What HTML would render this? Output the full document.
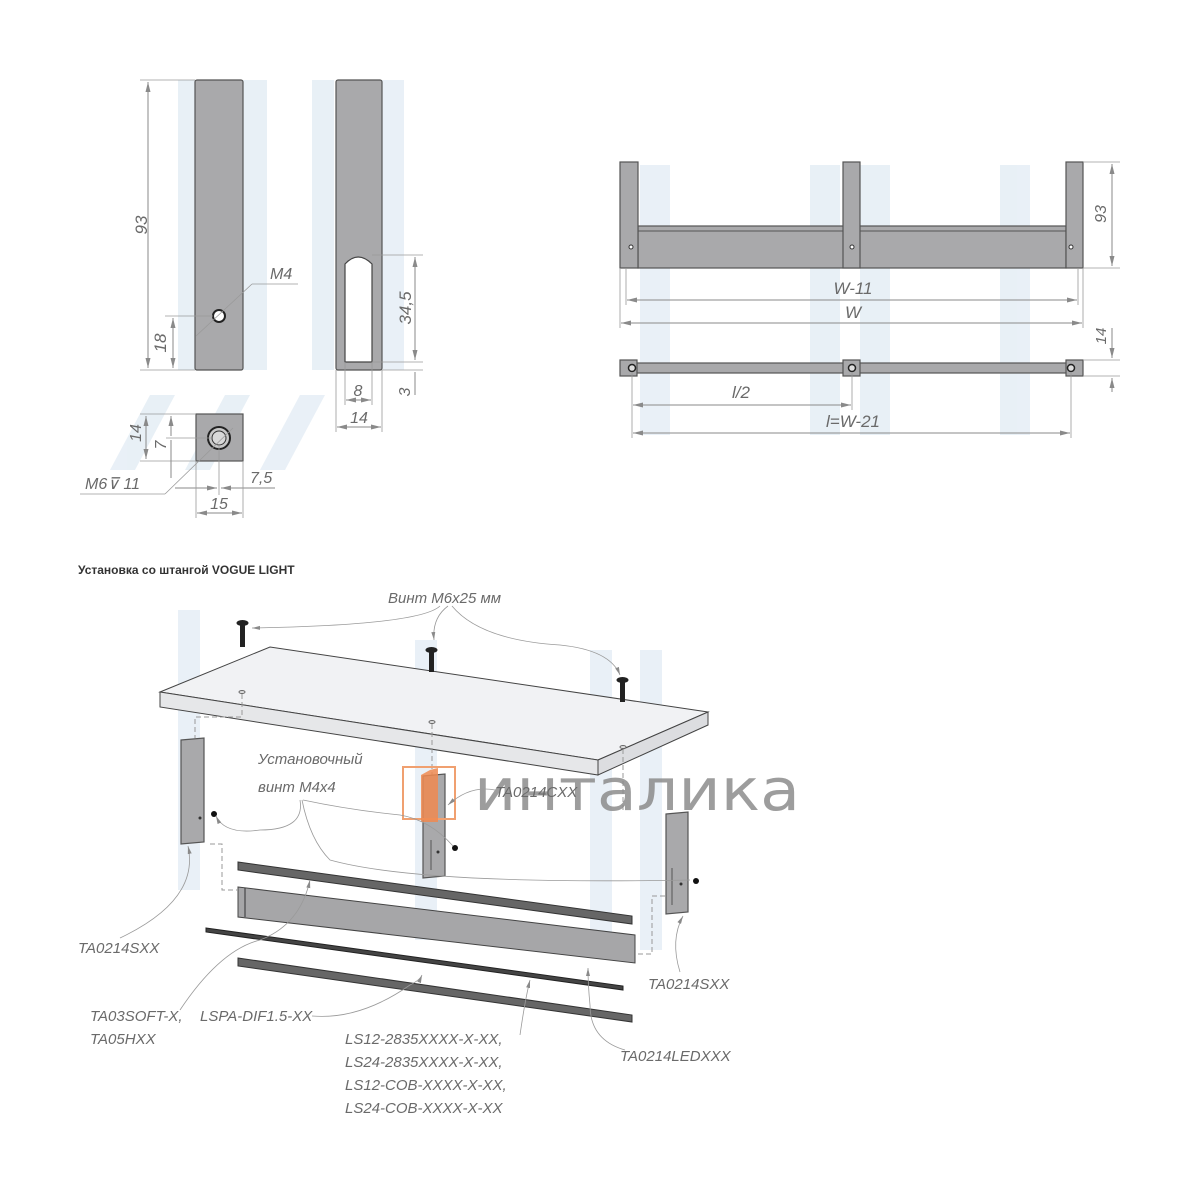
<!DOCTYPE html>
<html><head><meta charset="utf-8"><style>
html,body{margin:0;padding:0;background:#fff;}
svg{display:block;}
.t{font-family:"Liberation Sans Narrow","Liberation Sans",sans-serif;font-style:italic;fill:#6a6a6a;}
.d{stroke:#8a8a8a;stroke-width:1;fill:none;}
.e{stroke:#9a9a9a;stroke-width:0.8;fill:none;}
.part{fill:#a9a9ab;stroke:#555;stroke-width:1.2;}
.wm{fill:#dfeaf3;}
</style></head><body>
<svg width="1200" height="1200" viewBox="0 0 1200 1200" xmlns="http://www.w3.org/2000/svg">
<defs>
<marker id="a" viewBox="0 0 10 6" refX="10" refY="3" markerWidth="10" markerHeight="6" orient="auto-start-reverse"><path d="M0,0.5 L10,3 L0,5.5z" fill="#8a8a8a"/></marker>
</defs>
<!-- watermarks -->
<g class="wm" opacity="0.7">
<rect x="178" y="80" width="22" height="290"/><rect x="243" y="80" width="24" height="290"/>
<rect x="312" y="80" width="22" height="290"/><rect x="382" y="80" width="22" height="290"/>
<polygon points="110,470 150,395 175,395 135,470"/><polygon points="185,470 225,395 250,395 210,470"/><polygon points="260,470 300,395 325,395 285,470"/>
<rect x="640" y="165" width="30" height="270"/><rect x="810" y="165" width="30" height="270"/><rect x="860" y="165" width="30" height="270"/><rect x="1000" y="165" width="30" height="270"/>
<rect x="178" y="610" width="22" height="280"/><rect x="415" y="640" width="22" height="300"/><rect x="590" y="650" width="22" height="300"/><rect x="640" y="650" width="22" height="300"/>
</g>
<!-- Top-left bar -->
<rect class="part" x="195" y="80" width="48" height="290" rx="2"/>
<circle cx="219" cy="316" r="6" fill="#fff" stroke="#222" stroke-width="2"/>
<line class="e" x1="140" y1="80" x2="195" y2="80"/><line class="e" x1="140" y1="370" x2="195" y2="370"/>
<line class="d" x1="148" y1="82" x2="148" y2="368" marker-start="url(#a)" marker-end="url(#a)"/>
<text class="t" font-size="17" transform="translate(147,225) rotate(-90)" text-anchor="middle">93</text>
<line class="e" x1="165" y1="316" x2="213" y2="316"/>
<line class="d" x1="173" y1="318" x2="173" y2="368" marker-start="url(#a)" marker-end="url(#a)"/>
<text class="t" font-size="17" transform="translate(166,343) rotate(-90)" text-anchor="middle">18</text>
<line class="e" x1="196" y1="336" x2="252" y2="284"/><line class="e" x1="252" y1="284" x2="298" y2="284"/>
<text class="t" font-size="16" x="270" y="279">M4</text>
<!-- Second bar -->
<rect class="part" x="336" y="80" width="46" height="290" rx="2"/>
<path d="M345,362 L345,264 Q358,250 372,264 L372,362 Z" fill="#fff" stroke="#444" stroke-width="1.2"/>
<line class="e" x1="372" y1="255" x2="423" y2="255"/><line class="e" x1="372" y1="362" x2="423" y2="362"/><line class="e" x1="382" y1="370" x2="423" y2="370"/>
<line class="d" x1="415" y1="257" x2="415" y2="360" marker-start="url(#a)" marker-end="url(#a)"/>
<text class="t" font-size="17" transform="translate(411,308) rotate(-90)" text-anchor="middle">34,5</text>
<line class="d" x1="415" y1="372" x2="415" y2="395"/>
<text class="t" font-size="16" transform="translate(410,392) rotate(-90)" text-anchor="middle">3</text>
<line class="e" x1="345" y1="362" x2="345" y2="405"/><line class="e" x1="372" y1="362" x2="372" y2="405"/>
<line class="e" x1="336" y1="370" x2="336" y2="432"/><line class="e" x1="382" y1="370" x2="382" y2="432"/>
<line class="d" x1="346" y1="400" x2="371" y2="400" marker-start="url(#a)" marker-end="url(#a)"/>
<text class="t" font-size="16" x="358" y="396" text-anchor="middle">8</text>
<line class="d" x1="337" y1="427" x2="381" y2="427" marker-start="url(#a)" marker-end="url(#a)"/>
<text class="t" font-size="16" x="359" y="423" text-anchor="middle">14</text>
<!-- Bottom square -->
<rect class="part" x="196" y="414" width="47" height="47"/>
<circle cx="219" cy="438" r="11" fill="#c8c8c8" stroke="#222" stroke-width="2"/>
<circle cx="219" cy="438" r="7" fill="#d8d8d8" stroke="#333" stroke-width="1"/>
<line class="e" x1="140" y1="414" x2="196" y2="414"/><line class="e" x1="140" y1="461" x2="196" y2="461"/>
<line class="d" x1="146" y1="416" x2="146" y2="459" marker-start="url(#a)" marker-end="url(#a)"/>
<text class="t" font-size="16" transform="translate(141,433) rotate(-90)" text-anchor="middle">14</text>
<line class="e" x1="166" y1="438" x2="212" y2="438"/>
<line class="d" x1="171" y1="416" x2="171" y2="436" marker-start="url(#a)"/><line class="d" x1="171" y1="440" x2="171" y2="478"/>
<text class="t" font-size="16" transform="translate(166,445) rotate(-90)" text-anchor="middle">7</text>
<line class="e" x1="219" y1="445" x2="219" y2="495"/>
<line class="d" x1="175" y1="488" x2="217" y2="488" marker-end="url(#a)"/>
<line class="d" x1="221" y1="488" x2="275" y2="488" marker-start="url(#a)"/>
<text class="t" font-size="16" x="250" y="483">7,5</text>
<line class="e" x1="196" y1="461" x2="196" y2="518"/><line class="e" x1="243" y1="461" x2="243" y2="518"/>
<line class="d" x1="197" y1="513" x2="242" y2="513" marker-start="url(#a)" marker-end="url(#a)"/>
<text class="t" font-size="16" x="219" y="509" text-anchor="middle">15</text>
<line class="e" x1="233" y1="428" x2="165" y2="494"/><line class="e" x1="165" y1="494" x2="80" y2="494"/>
<text class="t" font-size="16" x="85" y="489">M6⊽ 11</text>
<!-- Right front view -->
<rect class="part" x="638" y="226" width="428" height="42"/>
<line x1="638" y1="231" x2="1066" y2="231" stroke="#555"/>
<rect class="part" x="620" y="162" width="18" height="106"/>
<rect class="part" x="843" y="162" width="17" height="106"/>
<rect class="part" x="1066" y="162" width="17" height="106"/>
<circle cx="631" cy="247" r="2" fill="#fff" stroke="#333"/><circle cx="852" cy="247" r="2" fill="#fff" stroke="#333"/><circle cx="1071" cy="247" r="2" fill="#fff" stroke="#333"/>
<line class="e" x1="1083" y1="162" x2="1120" y2="162"/><line class="e" x1="1083" y1="268" x2="1120" y2="268"/>
<line class="d" x1="1112" y1="164" x2="1112" y2="266" marker-start="url(#a)" marker-end="url(#a)"/>
<text class="t" font-size="16" transform="translate(1106,214) rotate(-90)" text-anchor="middle">93</text>
<line class="e" x1="626" y1="268" x2="626" y2="305"/><line class="e" x1="1078" y1="268" x2="1078" y2="305"/>
<line class="e" x1="620" y1="268" x2="620" y2="328"/><line class="e" x1="1083" y1="268" x2="1083" y2="328"/>
<line class="d" x1="627" y1="300" x2="1077" y2="300" marker-start="url(#a)" marker-end="url(#a)"/>
<text class="t" font-size="17" x="853" y="294" text-anchor="middle">W-11</text>
<line class="d" x1="621" y1="323" x2="1082" y2="323" marker-start="url(#a)" marker-end="url(#a)"/>
<text class="t" font-size="17" x="853" y="318" text-anchor="middle">W</text>
<!-- Right top view -->
<rect class="part" x="636" y="363" width="432" height="10"/>
<rect class="part" x="620" y="360" width="17" height="16"/><rect class="part" x="843" y="360" width="17" height="16"/><rect class="part" x="1066" y="360" width="17" height="16"/>
<circle cx="632" cy="368" r="3.5" fill="#ddd" stroke="#222" stroke-width="1.5"/><circle cx="852" cy="368" r="3.5" fill="#ddd" stroke="#222" stroke-width="1.5"/><circle cx="1071" cy="368" r="3.5" fill="#ddd" stroke="#222" stroke-width="1.5"/>
<line class="e" x1="1083" y1="360" x2="1120" y2="360"/><line class="e" x1="1083" y1="376" x2="1120" y2="376"/>
<line class="d" x1="1112" y1="328" x2="1112" y2="358" marker-end="url(#a)"/><line class="d" x1="1112" y1="378" x2="1112" y2="392" marker-start="url(#a)"/>
<text class="t" font-size="15" transform="translate(1106,336) rotate(-90)" text-anchor="middle">14</text>
<line class="e" x1="632" y1="372" x2="632" y2="438"/><line class="e" x1="852" y1="372" x2="852" y2="410"/><line class="e" x1="1071" y1="372" x2="1071" y2="438"/>
<line class="d" x1="633" y1="405" x2="851" y2="405" marker-start="url(#a)" marker-end="url(#a)"/>
<text class="t" font-size="17" x="741" y="398" text-anchor="middle">l/2</text>
<line class="d" x1="633" y1="433" x2="1070" y2="433" marker-start="url(#a)" marker-end="url(#a)"/>
<text class="t" font-size="17" x="853" y="427" text-anchor="middle">l=W-21</text>
<!-- Lower section -->
<text x="78" y="574" font-family="Liberation Sans Narrow,Liberation Sans,sans-serif" font-weight="bold" font-size="12" fill="#333">Установка со штангой VOGUE LIGHT</text>
<text class="t" font-size="15" x="388" y="603">Винт M6x25 мм</text>
<path class="e" d="M440,606 Q420,625 252,628" marker-end="url(#a)"/>
<path class="e" d="M448,606 Q432,618 434,640" marker-end="url(#a)"/>
<path class="e" d="M452,606 Q480,640 560,645 Q610,650 620,675" marker-end="url(#a)"/>
<!-- shelf -->
<polygon points="160,692 270,647 708,712 598,760" fill="#f1f2f4" stroke="#444" stroke-width="1"/>
<polygon points="160,692 598,760 598,775 160,707" fill="#e6e7e9" stroke="#444" stroke-width="1"/>
<polygon points="598,760 708,712 708,725 598,775" fill="#dcdde0" stroke="#444" stroke-width="1"/>
<!-- screws -->
<g fill="#222"><rect x="240" y="625" width="5" height="22"/><ellipse cx="242.5" cy="623" rx="6" ry="3"/>
<rect x="429" y="652" width="5" height="20"/><ellipse cx="431.5" cy="650" rx="6" ry="3"/>
<rect x="620" y="682" width="5" height="20"/><ellipse cx="622.5" cy="680" rx="6" ry="3"/></g>
<g fill="#ddd" stroke="#666"><ellipse cx="242" cy="692" rx="3" ry="1.5"/><ellipse cx="432" cy="722" rx="3" ry="1.5"/><ellipse cx="623" cy="747" rx="3" ry="1.5"/></g>
<path d="M242,694 V717 H195 V738" stroke="#999" stroke-dasharray="5,3" fill="none"/>
<line x1="432" y1="724" x2="432" y2="775" stroke="#999" stroke-dasharray="5,3"/>
<line x1="623" y1="749" x2="623" y2="812" stroke="#999" stroke-dasharray="5,3"/>
<!-- posts -->
<polygon class="part" points="181,740 204,738 204,842 181,844" stroke-width="1"/>
<polygon class="part" points="423,776 445,774 445,876 423,878" stroke-width="1"/>
<polygon class="part" points="666,814 688,812 688,912 666,914" stroke-width="1"/>
<circle cx="200" cy="818" r="1.5" fill="#333"/><circle cx="438" cy="852" r="1.5" fill="#333"/><circle cx="681" cy="884" r="1.5" fill="#333"/>
<circle cx="214" cy="814" r="3" fill="#111"/><circle cx="455" cy="848" r="3" fill="#111"/><circle cx="696" cy="881" r="3" fill="#111"/>
<line x1="431" y1="840" x2="431" y2="870" stroke="#555"/><line x1="672" y1="868" x2="672" y2="905" stroke="#555"/>
<!-- rails -->
<polygon points="238,862 632,916 632,924 238,870" fill="#666" stroke="#333"/>
<polygon points="238,887 635,935 635,963 238,917" fill="#a6a6a8" stroke="#444"/>
<line x1="245" y1="888" x2="245" y2="917" stroke="#333"/>
<polygon points="206,928 623,986 623,990 206,932" fill="#444" stroke="#222"/>
<polygon points="238,958 632,1015 632,1022 238,966" fill="#666" stroke="#333"/>
<path d="M210,844 H222 V890 H238" stroke="#999" stroke-dasharray="5,3" fill="none"/>
<path d="M665,896 H652 V954 H636" stroke="#999" stroke-dasharray="5,3" fill="none"/>
<!-- logo -->
<rect x="403" y="767" width="52" height="52" fill="none" stroke="#f0a070" stroke-width="2"/>
<polygon points="421,775 430,770 438,768 438,822 421,822" fill="#f08a50" opacity="0.85"/>
<text x="474" y="810" font-family="DejaVu Sans,Liberation Sans,sans-serif" font-size="58" fill="#8c8c8c" opacity="0.85" textLength="326" lengthAdjust="spacingAndGlyphs">инталика</text>
<!-- labels -->
<text class="t" font-size="15" x="258" y="764">Установочный</text>
<text class="t" font-size="15" x="258" y="792">винт M4x4</text>
<path class="e" d="M300,800 Q305,830 260,830 Q225,835 216,816" marker-end="url(#a)"/>
<path class="e" d="M302,800 Q310,840 330,860 Q420,885 690,880" />
<path class="e" d="M303,800 Q350,810 400,815 Q430,820 453,846" />
<text class="t" font-size="15" x="495" y="797">TA0214CXX</text>
<path class="e" d="M495,790 Q470,785 448,805" marker-end="url(#a)"/>
<text class="t" font-size="15" x="78" y="953">TA0214SXX</text>
<path class="e" d="M120,938 Q200,900 188,846" marker-end="url(#a)"/>
<text class="t" font-size="15" x="648" y="989">TA0214SXX</text>
<path class="e" d="M680,972 Q670,940 683,916" marker-end="url(#a)"/>
<text class="t" font-size="15" x="90" y="1021">TA03SOFT-X,</text>
<text class="t" font-size="15" x="200" y="1021">LSPA-DIF1.5-XX</text>
<text class="t" font-size="15" x="90" y="1044">TA05HXX</text>
<path class="e" d="M180,1010 Q220,950 260,940 Q300,925 310,880" marker-end="url(#a)"/>
<path class="e" d="M312,1016 Q360,1020 410,985 Q420,980 422,975" marker-end="url(#a)"/>
<text class="t" font-size="15" x="345" y="1044">LS12-2835XXXX-X-XX,</text>
<text class="t" font-size="15" x="345" y="1067">LS24-2835XXXX-X-XX,</text>
<text class="t" font-size="15" x="345" y="1090">LS12-COB-XXXX-X-XX,</text>
<text class="t" font-size="15" x="345" y="1113">LS24-COB-XXXX-X-XX</text>
<path class="e" d="M520,1035 Q525,1000 530,980" marker-end="url(#a)"/>
<text class="t" font-size="15" x="620" y="1061">TA0214LEDXXX</text>
<path class="e" d="M625,1050 Q590,1040 590,1005 Q588,985 588,968" marker-end="url(#a)"/>
</svg>
</body></html>
